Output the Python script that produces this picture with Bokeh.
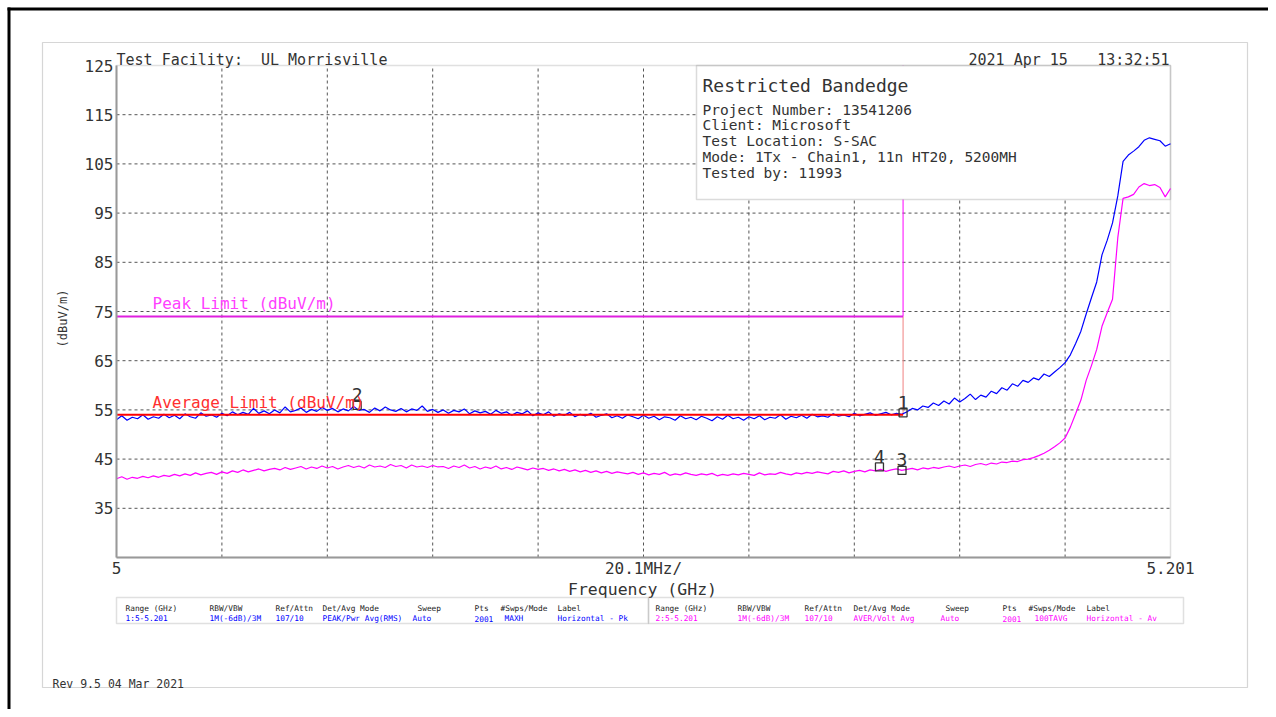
import numpy as np
from bokeh.plotting import figure
from bokeh.models import Range1d, FixedTicker, BoxAnnotation, Label, LinearAxis, ColumnDataSource
from bokeh.core.properties import value
from bokeh.embed import file_html
from bokeh.resources import INLINE

# ---------------- data ----------------
F_START = 5.0
F_STOP = 5.201
F_DIV = 0.0201            # 20.1 MHz / div
N_PTS = 201
freq = np.linspace(F_START, F_STOP, N_PTS)

# Trace 1: Horizontal - Pk (dBuV/m)
peak_trace = [
    53.0, 53.8, 52.9, 53.5, 53.2, 54.0, 53.1, 53.6, 53.3, 54.1,
    53.4, 53.9, 53.2, 54.2, 53.6, 53.3, 54.4, 53.7, 54.0, 53.5,
    54.3, 53.8, 54.6, 54.0, 54.5, 54.1, 55.3, 54.3, 54.8, 54.2,
    55.0, 54.4, 55.6, 54.6, 54.9, 55.4, 54.5, 55.1, 54.7, 55.5,
    54.9, 55.3, 54.6, 55.2, 54.8, 55.7, 54.9, 55.1, 54.5, 55.4,
    54.8, 55.6, 55.0, 54.7, 55.3, 54.6, 55.2, 54.9, 55.8, 54.7,
    55.1, 54.5, 55.0, 54.3, 54.9, 54.6, 55.2, 54.2, 54.8, 54.4,
    54.7, 54.1, 54.9, 54.3, 54.6, 53.9, 54.5, 54.2, 54.8, 53.8,
    54.4, 54.0, 54.6, 53.7, 54.2, 53.9, 54.5, 53.6, 54.1, 53.8,
    54.3, 53.5, 53.9, 54.2, 53.4, 53.8, 53.3, 54.0, 53.6, 53.2,
    53.9, 53.3, 53.7, 53.0, 53.6, 53.4, 52.9, 53.8, 53.2, 53.5,
    53.0, 53.7, 53.3, 52.8, 53.6, 53.1, 53.9, 53.2, 53.5, 52.9,
    53.6, 53.2, 53.8, 53.0, 53.5, 53.3, 54.0, 53.1, 53.7, 53.4,
    53.9, 53.3, 54.1, 53.6, 53.8, 53.5, 54.2, 53.7, 54.0, 53.6,
    54.3, 53.8, 54.1, 54.4, 53.9, 54.2, 54.5, 54.0, 54.3, 54.1,
    54.6, 55.3, 55.0, 55.8, 55.5, 56.4, 55.9, 56.8, 56.2, 57.4,
    56.6, 57.3, 58.2, 57.1, 58.0, 57.6, 58.8, 58.3, 59.5, 59.0,
    60.3, 59.8, 61.0, 60.6, 61.5, 61.1, 62.3, 61.8, 62.7, 63.6,
    64.6, 66.2, 68.5, 71.0, 74.5, 77.8, 81.0, 86.5, 89.5, 93.0,
    98.5, 105.5, 106.8, 107.6, 108.5, 109.8, 110.3, 110.0, 109.7, 108.6,
    109.1,
]

# Trace 2: Horizontal - Av (dBuV/m)
avg_trace = [
    41.0, 41.4, 40.9, 41.3, 41.1, 41.5, 41.2, 41.6, 41.3, 41.7,
    41.5, 41.9, 41.6, 42.0, 41.7, 42.2, 41.8, 42.1, 42.3, 41.9,
    42.4, 42.1, 42.6, 42.3, 42.8, 42.4, 42.7, 43.0, 42.6, 42.9,
    43.1, 42.8, 43.3, 42.9, 43.2, 43.5, 43.0, 43.4, 43.1, 43.6,
    43.2, 43.5, 43.0, 43.4, 43.7, 43.3, 43.6, 43.2, 43.8, 43.4,
    43.6, 43.3, 43.9, 43.5, 43.7, 43.2, 43.8, 43.4, 43.6, 43.3,
    43.7, 43.4, 43.5, 43.1, 43.6, 43.3, 43.8, 43.2, 43.5, 43.0,
    43.4, 43.1, 43.6, 43.0, 43.3, 42.9, 43.4, 43.1, 42.8, 43.2,
    42.9, 43.1, 42.7, 43.0, 42.6, 42.9, 42.5, 42.8, 42.4, 42.7,
    42.3, 42.6, 42.2, 42.5, 42.1, 42.4, 42.2, 42.0, 42.3, 41.9,
    42.2, 41.8, 42.1, 41.9, 42.3, 41.7, 42.0, 41.8, 42.2, 41.9,
    41.7, 42.0, 41.8, 42.1, 41.6, 41.9, 41.7, 42.0, 41.8, 42.1,
    41.9, 41.7, 42.2, 41.8, 42.0, 41.9, 42.3, 42.0, 41.8, 42.2,
    42.0, 42.3, 42.1, 42.4, 42.2, 42.0, 42.5, 42.3, 42.6, 42.2,
    42.5, 42.7, 42.4, 42.8, 42.6, 42.9, 42.5, 42.8, 43.0, 42.7,
    42.9, 43.1, 42.8, 43.2, 43.0, 43.3, 43.1, 43.4, 43.6, 43.3,
    43.6, 43.8, 43.5, 43.9, 44.1, 43.8, 44.2, 44.0, 44.4, 44.3,
    44.6, 44.5, 44.9, 45.0, 45.3, 45.7, 46.2, 46.8, 47.5, 48.3,
    49.3, 51.5, 54.2, 57.0, 61.0, 64.0, 67.3, 72.0, 74.8, 77.5,
    90.0, 98.0, 98.3, 98.8, 100.3, 101.0, 100.6, 100.8, 100.2, 98.3,
    100.0,
]

# limits
BAND_EDGE = 5.15
PEAK_LIMIT = 74.0
AVG_LIMIT = 54.0
Y_MIN, Y_MAX = 25, 125

# markers
mk_freq = [5.1500, 5.0459, 5.1498, 5.1455]
mk_level = [54.4, 55.9, 42.7, 43.4]
mk_label = ["1", "2", "3", "4"]

y_ticks = [35, 45, 55, 65, 75, 85, 95, 105, 115, 125]
y_grid = [35, 45, 55, 65, 75, 85, 95, 105, 115]
x_grid = [F_START + k * F_DIV for k in range(1, 10)]
x_ticks = [5.0, 5.1005, 5.201]
x_tick_labels = ["5", "20.1MHz/", "5.201"]

info_title = "Restricted Bandedge"
info_lines = ["Project Number: 13541206", "Client: Microsoft", "Test Location: S-SAC",
              "Mode: 1Tx - Chain1, 11n HT20, 5200MH", "Tested by: 11993"]

tbl_headers = ["Range (GHz)", "RBW/VBW", "Ref/Attn", "Det/Avg Mode", "Sweep", "Pts", "#Swps/Mode", "Label"]
tbl1_values = ["1:5-5.201", "1M(-6dB)/3M", "107/10", "PEAK/Pwr Avg(RMS)", "Auto", "2001", "MAXH", "Horizontal - Pk"]
tbl2_values = ["2:5-5.201", "1M(-6dB)/3M", "107/10", "AVER/Volt Avg", "Auto", "2001", "100TAVG", "Horizontal - Av"]

# ---------------- layout (pixels) ----------------
W, H = 1268, 709
PX_L, PX_R, PX_T, PX_B = 116, 1170, 65, 557   # data area inside the canvas
sx = (F_STOP - F_START) / (PX_R - PX_L)
sy = (Y_MAX - Y_MIN) / (PX_B - PX_T)
x_rng = Range1d(F_START - PX_L * sx, F_STOP + (W - PX_R) * sx)
y_rng = Range1d(Y_MIN - (H - PX_B) * sy, Y_MAX + PX_T * sy)

MONO = "DejaVu Sans Mono"
TXT = "#333333"
FRAME = "#999999"
BLUE = "#0000ff"
MAG = "#ff00ff"
NBSP = "\u00a0"

p = figure(width=W, height=H, output_backend="svg", toolbar_location=None,
           x_range=x_rng, y_range=y_rng, x_axis_location=None, y_axis_location=None,
           min_border=0, min_border_left=0, min_border_right=0, min_border_top=0, min_border_bottom=0,
           background_fill_color="white", border_fill_color="white")
p.outline_line_color = None
p.grid.visible = False

# axes fixed on the data area
yax = LinearAxis(fixed_location=F_START, bounds=(Y_MIN, Y_MAX), ticker=FixedTicker(ticks=y_ticks))
xax = LinearAxis(fixed_location=Y_MIN, bounds=(F_START, F_STOP), ticker=FixedTicker(ticks=x_ticks))
xax.major_label_overrides = dict(zip(x_ticks, x_tick_labels))
for ax in (xax, yax):
    ax.axis_line_color = FRAME
    ax.axis_line_width = 2
    ax.major_tick_line_color = None
    ax.minor_tick_line_color = None
    ax.major_tick_out = 0
    ax.major_tick_in = 0
    ax.major_label_text_font = MONO
    ax.major_label_text_font_size = "16px"
    ax.major_label_text_color = TXT
xax.major_label_standoff = 1
yax.major_label_standoff = 3
p.add_layout(yax, "left")
p.add_layout(xax, "below")

# grid lines (dashed)
p.segment(x0=x_grid, y0=[Y_MIN] * len(x_grid), x1=x_grid, y1=[Y_MAX] * len(x_grid),
          line_color="#555555", line_dash="3 3", line_width=1, level="image")
p.segment(x0=[F_START] * len(y_grid), y0=y_grid, x1=[F_STOP] * len(y_grid), y1=y_grid,
          line_color="#555555", line_dash="3 3", line_width=1, level="image")

# vertical band-edge limit segments (under info box)
p.segment(x0=[BAND_EDGE], y0=[PEAK_LIMIT], x1=[BAND_EDGE], y1=[Y_MAX], line_color=MAG, line_width=1, level="image")
p.segment(x0=[BAND_EDGE], y0=[AVG_LIMIT], x1=[BAND_EDGE], y1=[PEAK_LIMIT], line_color="#f08080", line_width=1,
          level="image")

CANVAS = dict(left_units="canvas", right_units="canvas", top_units="canvas", bottom_units="canvas")

# info box
p.add_layout(BoxAnnotation(left=696, right=PX_R, top=PX_T, bottom=199, fill_color="white", fill_alpha=1,
                           line_color="#888888", line_width=1.5, level="underlay", **CANVAS))
# data-area frame
p.add_layout(BoxAnnotation(left=PX_L, right=PX_R, top=PX_T, bottom=PX_B, fill_alpha=0,
                           line_color=FRAME, line_width=1.5, level="underlay", **CANVAS))

# traces
p.line(freq, avg_trace, line_color=MAG, line_width=1.2)
p.line(freq, peak_trace, line_color=BLUE, line_width=1.2)

# limit lines
p.line([F_START, BAND_EDGE], [PEAK_LIMIT, PEAK_LIMIT], line_color="#e020e0", line_width=2)
p.line([F_START, BAND_EDGE], [AVG_LIMIT, AVG_LIMIT], line_color="#ff0000", line_width=2)

# markers
msrc = ColumnDataSource(dict(x=mk_freq, y=mk_level, t=mk_label))
p.scatter("x", "y", source=msrc, marker="square", size=8, fill_color=None, line_color=TXT, line_width=1.3)
p.text("x", "y", text="t", source=msrc, text_font=value(MONO), text_font_size="18px",
       text_color=TXT, text_align="center", text_baseline="bottom", y_offset=-4)


def lab(x, y, text, size, color=TXT, font=MONO, align="left", baseline="alphabetic", angle=0):
    p.add_layout(Label(x=x, y=y, x_units="canvas", y_units="canvas", text=text, angle=angle,
                       text_font=font, text_font_size=size, text_color=color,
                       text_align=align, text_baseline=baseline))


# axis titles
lab(642, 589, "Frequency (GHz)", "16.5px", align="center")
lab(62, 318, "(dBuV/m)", "12px", align="center", baseline="middle", angle=np.pi / 2)

# limit labels
lab(152, 303, "Peak Limit (dBuV/m)", "16px", color="#ff40ff")
lab(152, 402, "Average Limit (dBuV/m)", "16px", color="#ff3030")

# header
lab(116, 59, "Test Facility:" + NBSP * 2 + "UL Morrisville", "15px")
lab(968, 59, "2021 Apr 15", "15px")
lab(1169, 59, "13:32:51", "15px", align="right")

# info text
lab(702, 85, info_title, "18px")
for i, s in enumerate(info_lines):
    lab(702, 109 + i * 15.8, s, "14.5px")

# outer frame + page border
p.add_layout(BoxAnnotation(left=42, right=1247, top=42, bottom=687, fill_alpha=0,
                           line_color="#777777", line_width=1.2, **CANVAS))
p.add_layout(BoxAnnotation(left=7, right=W, top=7, bottom=10, fill_color="black", fill_alpha=1,
                           line_alpha=0, **CANVAS))
p.add_layout(BoxAnnotation(left=7, right=10, top=7, bottom=H, fill_color="black", fill_alpha=1,
                           line_alpha=0, **CANVAS))

# settings tables
for l, r in ((116, 648), (648, 1183)):
    p.add_layout(BoxAnnotation(left=l, right=r, top=597, bottom=623, fill_alpha=0,
                               line_color=FRAME, line_width=1.5, **CANVAS))

hdr1 = [125, 209, 275, 322, 417, 474, 500, 557]
val1 = [125, 209, 275, 322, 412, 474, 504, 557]
hdr2 = [655, 737, 804, 853, 945, 1002, 1028, 1086]
val2 = [655, 737, 804, 853, 940, 1002, 1034, 1086]
for i in range(len(tbl_headers)):
    lab(hdr1[i], 608, tbl_headers[i], "7.8px", color="#222222")
    lab(hdr2[i], 608, tbl_headers[i], "7.8px", color="#222222")
    lab(val1[i], 618, tbl1_values[i], "7.8px", color=BLUE)
    lab(val2[i], 618, tbl2_values[i], "7.8px", color=MAG)

lab(52, 683, "Rev 9.5 04 Mar 2021", "11.5px")

open("out.html", "w").write(file_html(p, INLINE))
